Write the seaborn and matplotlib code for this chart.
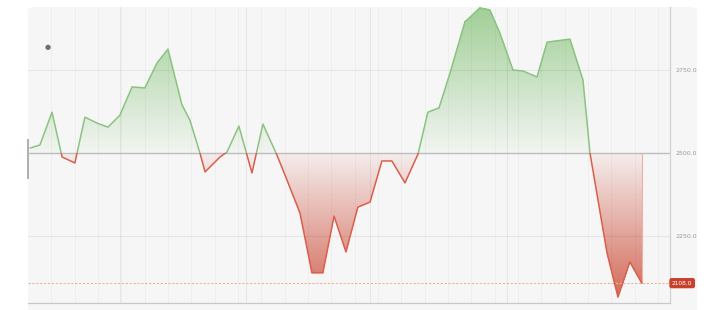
import numpy as np
import pandas as pd
import matplotlib
matplotlib.use("Agg")
import matplotlib.pyplot as plt
import matplotlib.transforms as mtransforms
from matplotlib.patches import FancyBboxPatch, Rectangle
import seaborn as sns

# ---- data ----
t = [0.09, 0.51, 1.03, 1.46, 2.01, 2.44, 2.96, 3.43, 3.94, 4.46, 5.01, 5.53, 6.00,
     6.60, 6.94, 7.37, 7.59, 8.23, 8.53, 9.04, 9.60, 10.07, 10.67, 11.10, 11.66,
     12.17, 12.64, 13.12, 13.63, 14.14, 14.66, 15.17, 15.60, 16.16, 16.72, 17.14,
     17.62, 18.09, 18.73, 19.37, 19.80, 20.23, 20.79, 21.22, 21.82, 22.25, 23.23,
     23.79, 24.09, 24.82, 25.29, 25.80, 26.31]
price = [2515, 2524, 2623, 2488, 2470, 2608, 2590, 2578, 2614, 2699, 2696, 2771, 2813,
         2645, 2599, 2500, 2443, 2488, 2503, 2581, 2440, 2587, 2494, 2419, 2319,
         2139, 2139, 2310, 2202, 2337, 2352, 2476, 2476, 2410, 2497, 2623,
         2636, 2741, 2895, 2937, 2931, 2861, 2750, 2747, 2729, 2834, 2843,
         2720, 2500, 2199, 2066, 2172, 2108]
baseline = 2500.0
current = 2108.0
ytick_vals = [2250, 2500, 2750]
ytick_labels = ["2250.0", "2500.0", "2750.0"]
xtick_vals = list(range(1, 28))
major_x = [3.95, 9.35, 14.65, 20.55]

df = pd.DataFrame({"t": t, "price": price})

sns.set_theme(style="white")
plt.rcParams["font.family"] = ["DejaVu Sans"]

W, H = 712, 310
BG = np.array([0xf6, 0xf6, 0xf6]) / 255.0
fig = plt.figure(figsize=(W / 100, H / 100), dpi=100)
fig.patch.set_facecolor("white")

# card background
card = FancyBboxPatch((28 / W, -20 / H), (697 - 28) / W, (310 - 7 + 20) / H,
                      boxstyle="round,pad=0,rounding_size=0.012",
                      transform=fig.transFigure, facecolor="#f6f6f6",
                      edgecolor="none", zorder=-10)
fig.patches.append(card)

ax = fig.add_axes([28 / W, 7 / H, (670 - 28) / W, (303 - 7) / H])
ax.set_zorder(1)
ax.set_facecolor("none")
ax.patch.set_alpha(0)
xmin, xmax = 0.0, 27.52
ymin, ymax = 2048.2, 2939.8

# gradient fills as thin horizontal bands between the series and the baseline
tt = np.array(t, dtype=float)
pp = np.array(price, dtype=float)
xf = np.linspace(tt[0], tt[-1], 4000)
pf = np.interp(xf, tt, pp)

def blend(rgb, a):
    return tuple(np.array(rgb) * a + BG * (1 - a))

nb = 90
g_rgb, r_rgb = (0.50, 0.75, 0.44), (0.80, 0.30, 0.22)
lv = np.linspace(baseline, ymax, nb + 1)
for a, b in zip(lv[:-1], lv[1:]):
    m = pf > a
    if not m.any():
        continue
    alpha = 0.03 + 0.69 * ((a + b) / 2 - baseline) / (ymax - baseline)
    ax.fill_between(xf, a, np.minimum(pf, b), where=m, facecolor=blend(g_rgb, alpha),
                    edgecolor="none", lw=0, antialiased=False, zorder=1)
lv = np.linspace(baseline, ymin, nb + 1)
for a, b in zip(lv[:-1], lv[1:]):
    m = pf < a
    if not m.any():
        continue
    alpha = 0.05 + 0.80 * (baseline - (a + b) / 2) / (baseline - ymin)
    ax.fill_between(xf, np.maximum(pf, b), a, where=m, facecolor=blend(r_rgb, alpha),
                    edgecolor="none", lw=0, antialiased=False, zorder=1)

# grid (drawn over the fills, faint)
for xv in xtick_vals:
    ax.axvline(xv, color="#000000", alpha=0.035, lw=0.6, zorder=1.5)
for xv in major_x:
    ax.axvline(xv, color="#000000", alpha=0.06, lw=0.8, zorder=1.5)
for yv in ytick_vals:
    if yv != baseline:
        ax.axhline(yv, color="#000000", alpha=0.06, lw=0.8, zorder=1.5)

# baseline
ax.axhline(baseline, color="#bdbdbd", lw=1.0, zorder=2)

# lines (green above, red below)
sns.lineplot(data=df, x="t", y="price", ax=ax, color="#8cc383", lw=1.1,
             sort=False, estimator=None, zorder=3)
l_up = ax.lines[-1]
clip_up = Rectangle((xmin, baseline), xmax - xmin, ymax - baseline, transform=ax.transData)
l_up.set_clip_path(clip_up)
sns.lineplot(data=df, x="t", y="price", ax=ax, color="#d9604c", lw=1.1,
             sort=False, estimator=None, zorder=3)
l_dn = ax.lines[-1]
clip_dn = Rectangle((xmin, ymin), xmax - xmin, baseline - ymin, transform=ax.transData)
l_dn.set_clip_path(clip_dn)

# right edge of the red area
ax.vlines(tt[-1], current, baseline, color="#e9b2a8", lw=0.8, zorder=2.5)

# current price line
ax.axhline(current, color="#eab49c", lw=0.8, ls=(0, (2, 1.5)), zorder=2)

ax.set_xlim(xmin, xmax)
ax.set_ylim(ymin, ymax)

# axes styling
ax.set_xlabel("")
ax.set_ylabel("")
ax.yaxis.tick_right()
ax.set_yticks(ytick_vals)
ax.set_yticklabels(ytick_labels)
ax.tick_params(axis="y", length=0, pad=4, labelsize=4.5, labelcolor="#9a9a9a")
ax.set_xticks(xtick_vals)
ax.set_xticklabels([])
ax.tick_params(axis="x", length=5, width=0.7, color="#c8c8c8", direction="out")
for s in ["top", "left"]:
    ax.spines[s].set_visible(False)
ax.spines["right"].set_color("#d2d2d2")
ax.spines["right"].set_linewidth(0.9)
ax.spines["bottom"].set_color("#c8c8c8")
ax.spines["bottom"].set_linewidth(0.9)

# current price label
trans = mtransforms.blended_transform_factory(ax.transAxes, ax.transData)
ax.text(1.003, current, f"{current:.1f}", transform=trans, ha="left", va="center",
        fontsize=4.2, color="white", zorder=5, clip_on=False,
        bbox=dict(boxstyle="round,pad=0.45,rounding_size=0.4", fc="#c8412d", ec="none"))

# legend dot and left handle
ax.text(0.031, 0.865, "\u25CF", transform=ax.transAxes, ha="center", va="center",
        fontsize=5, color="#707070")
ax.add_patch(Rectangle((-0.002, 0.42), 0.003, 0.135, transform=ax.transAxes,
                       facecolor="#b0b0b0", edgecolor="none", clip_on=False))

fig.savefig("out.png", dpi=100, facecolor="white")
